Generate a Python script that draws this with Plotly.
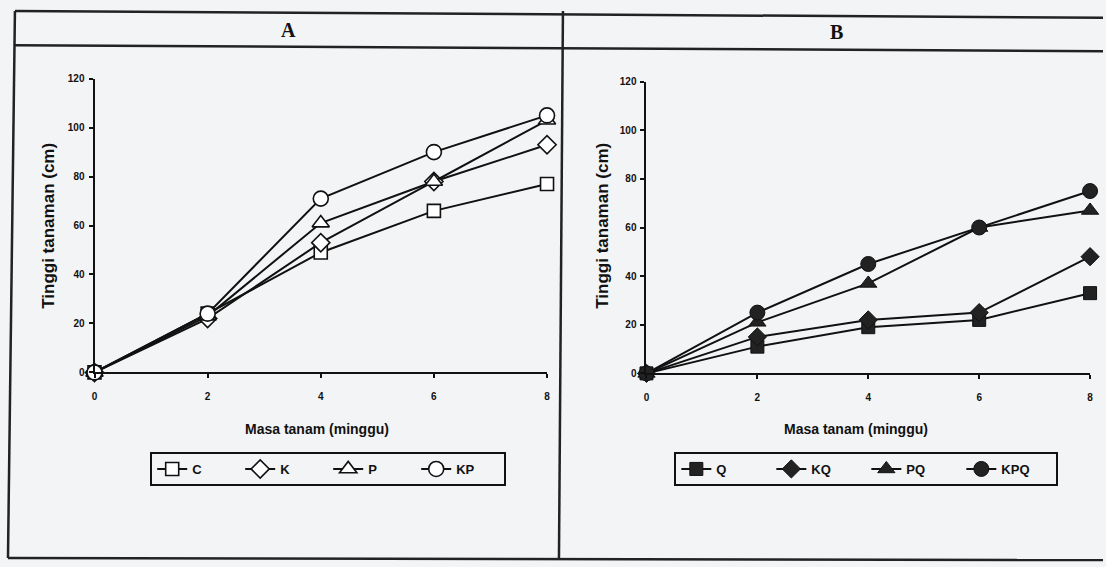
import plotly.graph_objects as go

# ---- data ----
weeks = [0, 2, 4, 6, 8]
x_ticks = [0, 2, 4, 6, 8]
y_ticks = [0, 20, 40, 60, 80, 100, 120]

a_names = ["C", "K", "P", "KP"]
a_C = [0, 24, 49, 66, 77]
a_K = [0, 22, 53, 78, 93]
a_P = [0, 23, 61, 78, 103]
a_KP = [0, 24, 71, 90, 105]

b_names = ["Q", "KQ", "PQ", "KPQ"]
b_Q = [0, 11, 19, 22, 33]
b_KQ = [0, 15, 22, 25, 48]
b_PQ = [0, 21, 37, 60, 67]
b_KPQ = [0, 25, 45, 60, 75]

panel_titles = ["A", "B"]
x_title = "Masa tanam (minggu)"
y_title = "Tinggi tanaman (cm)"

# ---- layout helpers ----
W, H = 1106, 567
BG = "#f3f4f6"


def X(px):
    return px / W


def Y(py):
    return 1 - py / H


symbols = ["square", "diamond", "triangle-up", "circle"]
sizes = [13, 14, 15, 15]

fig = go.Figure()

for name, vals, sym, sz in zip(a_names, [a_C, a_K, a_P, a_KP], symbols, sizes):
    fig.add_trace(go.Scatter(
        x=weeks, y=vals, name="<b>%s</b>" % name, mode="lines+markers",
        line=dict(color="#111", width=2),
        marker=dict(symbol=sym, size=sz, color="white", line=dict(color="#111", width=1.6)),
        cliponaxis=False, xaxis="x", yaxis="y", legend="legend",
    ))

for name, vals, sym, sz in zip(b_names, [b_Q, b_KQ, b_PQ, b_KPQ], symbols, sizes):
    fig.add_trace(go.Scatter(
        x=weeks, y=vals, name="<b>%s</b>" % name, mode="lines+markers",
        line=dict(color="#111", width=2),
        marker=dict(symbol=sym, size=sz, color="#222", line=dict(color="#111", width=1)),
        cliponaxis=False, xaxis="x2", yaxis="y2", legend="legend2",
    ))

tickfont = dict(family="Liberation Sans", size=10, color="#111", weight="bold")
axis_common = dict(showgrid=False, zeroline=False, showline=True, linecolor="#111", linewidth=2,
                   ticks="outside", ticklen=4, tickwidth=2, tickcolor="#111", tickfont=tickfont)

fig.update_layout(
    width=W, height=H, margin=dict(l=0, r=0, t=0, b=0),
    paper_bgcolor=BG, plot_bgcolor=BG, showlegend=True,
    xaxis=dict(domain=[X(92), X(547)], range=[0, 8], tickvals=x_ticks, anchor="y",
               ticklabelstandoff=10, **axis_common),
    yaxis=dict(domain=[Y(374), Y(75)], range=[0, 120], tickvals=y_ticks, anchor="x",
               ticklabelstandoff=2, **axis_common),
    xaxis2=dict(domain=[X(647), X(1093)], range=[0, 8], tickvals=x_ticks, anchor="y2",
                ticklabelstandoff=10, **axis_common),
    yaxis2=dict(domain=[Y(375), Y(78)], range=[0, 120], tickvals=y_ticks, anchor="x2",
                ticklabelstandoff=2, **axis_common),
    legend=dict(orientation="h", x=X(148), y=Y(455), xanchor="left", yanchor="top",
                bordercolor="#111", borderwidth=2, bgcolor=BG,
                font=dict(family="Liberation Sans", size=13, color="#111"),
                entrywidth=43, itemwidth=30),
    legend2=dict(orientation="h", x=X(675), y=Y(455), xanchor="left", yanchor="top",
                 bordercolor="#111", borderwidth=2, bgcolor=BG,
                 font=dict(family="Liberation Sans", size=13, color="#111"),
                 entrywidth=50, itemwidth=30),
)

# frame lines (scanned page, slightly tilted)
frame = [
    (12, 6, 1106, 13),      # top
    (12, 41, 1106, 47),     # header separator
    (12, 6, 5, 563),        # left
    (563, 6, 559, 563),     # middle divider
    (5, 563, 1106, 565),    # bottom
]
for x0, y0, x1, y1 in frame:
    fig.add_shape(type="line", xref="paper", yref="paper",
                  x0=X(x0), y0=Y(y0), x1=X(x1), y1=Y(y1),
                  line=dict(color="#222", width=2.5))

# panel headers
for txt, cx, cy in zip(panel_titles, [287, 838], [25, 27]):
    fig.add_annotation(text="<b>%s</b>" % txt, x=X(cx), y=Y(cy), xref="paper", yref="paper",
                       showarrow=False, xanchor="center", yanchor="middle",
                       font=dict(family="Liberation Serif", size=20, color="#111"))

# axis titles
for cx in [316, 858]:
    fig.add_annotation(text="<b>%s</b>" % x_title, x=X(cx), y=Y(432), xref="paper", yref="paper",
                       showarrow=False, xanchor="center", yanchor="middle",
                       font=dict(family="Liberation Sans", size=14, color="#111"))
for cx in [45, 602]:
    fig.add_annotation(text="<b>%s</b>" % y_title, x=X(cx), y=Y(225), xref="paper", yref="paper",
                       showarrow=False, xanchor="center", yanchor="middle", textangle=-90,
                       font=dict(family="Liberation Sans", size=17, color="#111"))

fig.write_html("out.html", config={"displayModeBar": False},
               post_script="document.body.style.margin='0';document.body.style.overflow='hidden';")
